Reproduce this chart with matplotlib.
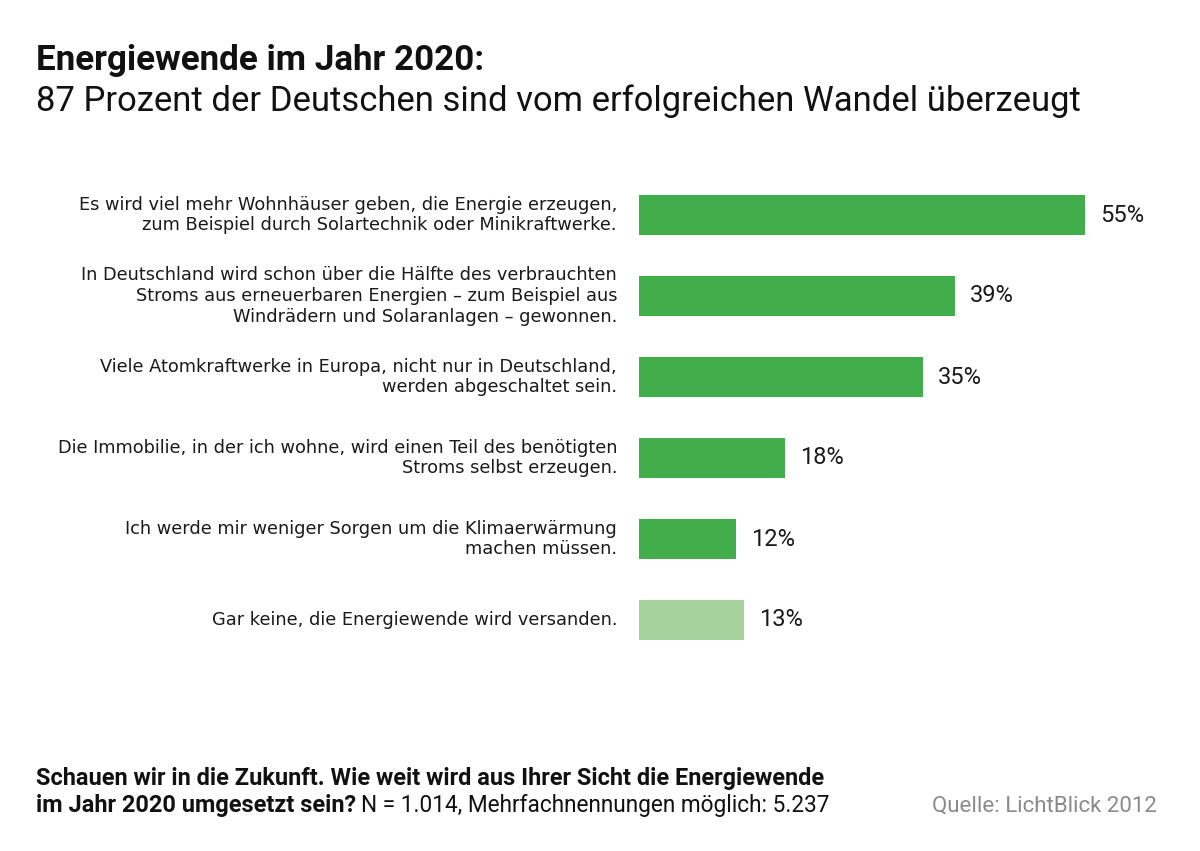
import numpy as np
import matplotlib.pyplot as plt

plt.rcParams['font.family'] = ['Roboto', 'DejaVu Sans']

# Antworten (von oben nach unten)
antworten = [
    "Es wird viel mehr Wohnhäuser geben, die Energie erzeugen,\nzum Beispiel durch Solartechnik oder Minikraftwerke.",
    "In Deutschland wird schon über die Hälfte des verbrauchten\nStroms aus erneuerbaren Energien – zum Beispiel aus\nWindrädern und Solaranlagen – gewonnen.",
    "Viele Atomkraftwerke in Europa, nicht nur in Deutschland,\nwerden abgeschaltet sein.",
    "Die Immobilie, in der ich wohne, wird einen Teil des benötigten\nStroms selbst erzeugen.",
    "Ich werde mir weniger Sorgen um die Klimaerwärmung\nmachen müssen.",
    "Gar keine, die Energiewende wird versanden.",
]
prozent = [55, 39, 35, 18, 12, 13]
farben = ['#41ae4b', '#41ae4b', '#41ae4b', '#41ae4b', '#41ae4b', '#a6d39d']

W, H = 1200, 851
fig = plt.figure(figsize=(W / 100, H / 100), dpi=100)
fig.patch.set_facecolor('white')

# Achse: links bei 639 px, 8.11 px pro Prozent
links = 639 / W
breite = 60 * 8.11 / W
ax = fig.add_axes([links, 1 - 660.5 / H, breite, 486 / H])
y = np.arange(len(prozent))
ax.barh(y, prozent, height=0.49, color=farben)
ax.set_xlim(0, 60)
ax.set_ylim(len(prozent) - 0.5, -0.5)
ax.axis('off')

for yi, p in zip(y, prozent):
    ax.annotate(f"{p}%", xy=(p, yi), xytext=(15, 0), textcoords='offset pixels',
                va='center', ha='left', fontsize=17, color='#1a1a1a')

for yi, txt in zip(y, antworten):
    ax.annotate(txt, xy=(0, yi), xytext=(-22, 0), textcoords='offset pixels',
                ha='right', va='center', multialignment='right',
                fontsize=12.8, family='DejaVu Sans', color='#1a1a1a', linespacing=1.18)

# Titel
fig.text(36 / W, 1 - 70 / H, "Energiewende im Jahr 2020:", fontsize=25.2,
         fontweight='bold', color='#111111', va='baseline')
fig.text(36 / W, 1 - 111 / H, "87 Prozent der Deutschen sind vom erfolgreichen Wandel überzeugt",
         fontsize=24.9, color='#111111', va='baseline')

# Fußzeile
fig.text(36 / W, 1 - 785 / H,
         "Schauen wir in die Zukunft. Wie weit wird aus Ihrer Sicht die Energiewende",
         fontsize=16.9, fontweight='bold', color='#111111', va='baseline')
t_bold = fig.text(36 / W, 1 - 812 / H, "im Jahr 2020 umgesetzt sein?",
                  fontsize=16.9, fontweight='bold', color='#111111', va='baseline')
renderer = fig.canvas.get_renderer()
bb = t_bold.get_window_extent(renderer=renderer)
fig.text((bb.x1 + 5) / W, 1 - 812 / H, "N = 1.014, Mehrfachnennungen möglich: 5.237",
         fontsize=16.3, color='#111111', va='baseline')
fig.text(1157 / W, 1 - 812 / H, "Quelle: LichtBlick 2012", fontsize=16.0,
         color='#8a8a8a', ha='right', va='baseline')

fig.savefig('out.png', dpi=100, facecolor='white')
